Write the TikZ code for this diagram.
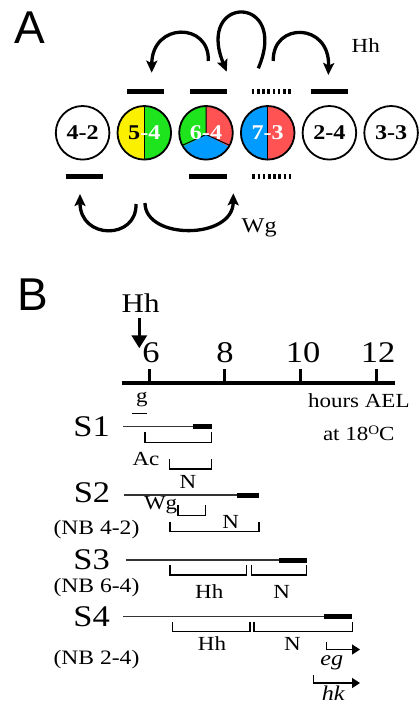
\documentclass[tikz,border=0pt]{standalone}
\usepackage{fontspec}
\setmainfont[FakeStretch=1.15]{Liberation Serif}
\newfontfamily\sfA{Liberation Sans}
\usetikzlibrary{arrows.meta}
\newcommand\myfs[1]{\fontsize{#1}{#1}\selectfont}
\definecolor{cyel}{RGB}{250,240,0}
\definecolor{cgrn}{RGB}{30,228,30}
\definecolor{cred}{RGB}{255,82,82}
\definecolor{cblu}{RGB}{0,155,255}
\tikzset{
  lbl/.style={inner sep=0pt, outer sep=0pt},
  big/.style={lbl, font=\sfA\myfs{46}},
  txt/.style={lbl, font=\myfs{20}},
  circ/.style={circle, draw, line width=1.8pt, minimum size=53.6pt, inner sep=0pt, font=\bfseries\myfs{21}},
  divline/.style={line width=1pt},
  harrow/.style={line width=3.3pt, -{Stealth[length=12pt,width=11pt,inset=2.5pt]}},
  hbar/.style={line width=5pt},
  dotbar/.style={line width=5pt, dash pattern=on 2.7pt off 2.5pt},
  tline/.style={line width=1.2pt, black!80},
  brk/.style={line width=1.5pt},
  tick/.style={line width=3pt},
  small/.style={line width=1.5pt, -{Triangle[length=8pt,width=10pt]}},
}
\begin{document}
\begin{tikzpicture}[x=1pt,y=-1pt]
\useasboundingbox (0,0) rectangle (419,706);
% ---------------- Panel A ----------------
\node[big] (labA) at (30,28) {A};
% fills
\begin{scope}
  \clip (144.3,132.8) circle[radius=26.8];
  \fill[cyel] (110,100) rectangle (144.3,165);
  \fill[cgrn] (144.3,100) rectangle (180,165);
\end{scope}
\begin{scope}
  \clip (206,132.8) circle[radius=26.8];
  \fill[cgrn] (170,100) rectangle (206,165);
  \fill[cred] (206,100) rectangle (240,165);
  \fill[cblu] (206,134.5) -- (253.3,159.6) -- (253.3,170) -- (158.7,170) -- (158.7,159.6) -- cycle;
\end{scope}
\begin{scope}
  \clip (267.7,132.8) circle[radius=26.8];
  \fill[cblu] (230,100) rectangle (267.7,165);
  \fill[cred] (267.7,100) rectangle (300,165);
\end{scope}
\draw[divline] (144.3,106) -- (144.3,159.6);
\draw[divline] (206,106) -- (206,134.5) -- (229.7,145.4);
\draw[divline] (206,134.5) -- (182.3,145.4);
\draw[divline] (267.7,106) -- (267.7,159.6);
% circles
\node[circ] (c42) at (82.6,132.8) {4-2};
\node[circ] (c54) at (144.3,132.8) {5{\color{white}-4}};
\node[circ, text=white] (c64) at (206,132.8) {6-4};
\node[circ, text=white] (c73) at (267.7,132.8) {7-3};
\node[circ] (c24) at (329.4,132.8) {2-4};
\node[circ] (c33) at (391.1,132.8) {3-3};
% bars above
\draw[hbar] (127.3,91.2) -- (164,91.2);
\draw[hbar] (190,91.2) -- (226.7,91.2);
\draw[dotbar] (251.7,91.2) -- (290.7,91.2);
\draw[hbar] (310.7,91.2) -- (347.7,91.2);
% bars below
\draw[hbar] (65.7,176.7) -- (102.7,176.7);
\draw[hbar] (189.3,176.7) -- (226.7,176.7);
\draw[dotbar] (252.3,176.7) -- (291.3,176.7);
% Hh arrows
\coordinate (h1s) at (208.3,61);   \coordinate (h1e) at (151.7,72.7);
\coordinate (h2s) at (258.3,68.3); \coordinate (h2e) at (226.7,71.7);
\coordinate (h3s) at (273.3,61);   \coordinate (h3e) at (328.3,75);
\draw[harrow] (h1s) .. controls (210,22) and (152,22) .. (h1e);
\draw[harrow] (h2s) .. controls (290,-6) and (195,-6) .. (h2e);
\draw[harrow] (h3s) .. controls (272,22) and (330,22) .. (h3e);
\node[txt, anchor=base west] (hhA) at (351.7,52.3) {Hh};
% Wg arrows
\coordinate (w1s) at (136,204);   \coordinate (w1e) at (80,194);
\coordinate (w2s) at (145,203);   \coordinate (w2e) at (233.3,193.3);
\draw[harrow] (w1s) .. controls (137,240) and (80,240) .. (w1e);
\draw[harrow] (w2s) .. controls (145,240) and (233,240) .. (w2e);
\node[txt, font=\myfs{21}, anchor=base west] (wgA) at (241.7,232.3) {Wg};
% ---------------- Panel B ----------------
\node[big] (labB) at (32.5,294.5) {B};
\node[lbl, font=\myfs{27}, anchor=base west] (hhB) at (121.7,312) {Hh};
\coordinate (ha1) at (139.3,318); \coordinate (ha2) at (139.3,348.3);
\draw[line width=3.5pt, -{Triangle[length=13pt,width=15pt]}] (ha1) -- (ha2);
% axis
\coordinate (ax1) at (121.7,383.3); \coordinate (ax2) at (395,383.3);
\draw[line width=4pt] (ax1) -- (ax2);
\draw[tick] (149.3,369) -- (149.3,383.3);
\draw[tick] (224.3,369) -- (224.3,383.3);
\draw[tick] (300.7,369) -- (300.7,383.3);
\draw[tick] (376,369) -- (376,383.3);
\node[lbl, font=\myfs{30}] (n6) at (151,352.5) {6};
\node[lbl, font=\myfs{30}] (n8) at (225,352.5) {8};
\node[lbl, font=\myfs{30}] (n10) at (303,352.5) {10};
\node[lbl, font=\myfs{30}] (n12) at (378,352.5) {12};
\node[txt, anchor=base west] (hrs) at (308,407.3) {hours AEL};
\node[txt, anchor=base west] (temp) at (323,440.5) {at 18{\myfs{13}\raisebox{6.5pt}{O}}C};
% g
\node[txt, anchor=base west] (gl) at (136,402) {g};
\draw[brk] (131.7,413.3) -- (147.3,413.3);
% row labels
\node[lbl, font=\myfs{30}, anchor=base] (s1) at (91.7,436) {S1};
\node[lbl, font=\myfs{30}, anchor=base] (s2) at (92,502) {S2};
\node[lbl, font=\myfs{30}, anchor=base] (s3) at (91.7,569) {S3};
\node[lbl, font=\myfs{30}, anchor=base] (s4) at (91.7,626.5) {S4};
\node[lbl, font=\myfs{20.5}, anchor=base] (nb2) at (96.5,534) {(NB 4-2)};
\node[lbl, font=\myfs{20.5}, anchor=base] (nb3) at (96.5,592.7) {(NB 6-4)};
\node[lbl, font=\myfs{20.5}, anchor=base] (nb4) at (96.5,664.3) {(NB 2-4)};
% S1
\draw[tline] (123.3,426.7) -- (211.7,426.7);
\draw[hbar] (192.7,426.7) -- (211.7,426.7);
\draw[brk] (145,432) -- (145,442.7) -- (211.7,442.7) -- (211.7,432);
\node[txt, anchor=base west] (ac) at (132.5,465) {Ac};
\draw[brk] (169.3,459) -- (169.3,469) -- (211.7,469) -- (211.7,459);
\node[txt, anchor=base] (n1) at (188,488) {N};
% S2
\draw[tline] (124,495) -- (259,495);
\draw[hbar] (237,495) -- (259,495);
\node[txt, anchor=base west] (wg2) at (144,509) {Wg};
\draw[brk] (178,505) -- (178,515.7) -- (205.7,515.7) -- (205.7,505);
\draw[brk] (170,521.7) -- (170,531.7) -- (259,531.7) -- (259,521.7);
\node[txt, anchor=base] (n2) at (230.7,528) {N};
% S3
\draw[tline] (125.7,560) -- (306.7,560);
\draw[hbar] (279,560) -- (306.7,560);
\draw[brk] (170,565) -- (170,575) -- (246.7,575) -- (246.7,565);
\draw[brk] (251.7,565) -- (251.7,575) -- (306.7,575) -- (306.7,565);
\node[txt, anchor=base] (hh3) at (209.2,598) {Hh};
\node[txt, anchor=base] (n3) at (281.7,598) {N};
% S4
\draw[tline] (123.3,616.7) -- (352.3,616.7);
\draw[hbar] (324.3,616.7) -- (352.3,616.7);
\draw[brk] (172.7,621.7) -- (172.7,631.7) -- (250,631.7) -- (250,621.7);
\draw[brk] (254,621.7) -- (254,631.7) -- (352.3,631.7) -- (352.3,621.7);
\node[txt, anchor=base] (hh4) at (212,650) {Hh};
\node[txt, anchor=base] (n4) at (292.5,650) {N};
% eg / hk
\coordinate (egA) at (326.7,641.7); \coordinate (egB) at (360,649.5);
\draw[small] (egA) |- (egB);
\node[txt, font=\itshape\myfs{21}, anchor=base] (eg) at (331.7,665) {eg};
\coordinate (hkA) at (313.3,675); \coordinate (hkB) at (360,683);
\draw[small] (hkA) |- (hkB);
\node[txt, font=\itshape\myfs{21}, anchor=base] (hk) at (333.3,700) {hk};
\end{tikzpicture}
\end{document}
